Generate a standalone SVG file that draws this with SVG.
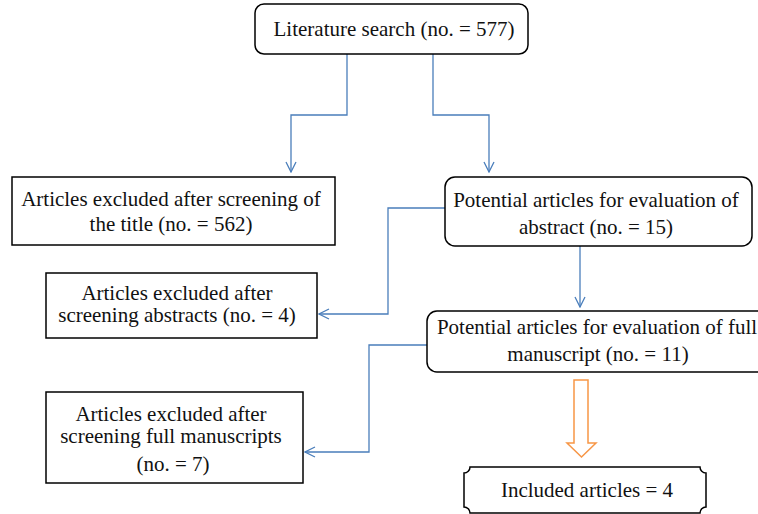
<svg xmlns="http://www.w3.org/2000/svg" width="758" height="514" viewBox="0 0 758 514">
<defs>
<style>
.box{fill:#fff;stroke:#000;stroke-width:1.5}
.t{font-family:"Liberation Serif","Times New Roman",serif;font-size:21px;fill:#111;text-anchor:middle}
.c{fill:none;stroke:#4a7ebb;stroke-width:1.3}
</style>
<marker id="ah" viewBox="0 0 12 12" refX="11" refY="6" markerWidth="12" markerHeight="12" markerUnits="userSpaceOnUse" orient="auto">
<path d="M1,1 L11,6 L1,11" fill="none" stroke="#4a7ebb" stroke-width="1.3"/>
</marker>
</defs>
<rect width="758" height="514" fill="#fff"/>
<g id="connectors">
<path class="c" d="M347,54 V115 H291 V172" marker-end="url(#ah)"/>
<path class="c" d="M433,54 V115 H489 V172" marker-end="url(#ah)"/>
<path class="c" d="M445,208 H388 V314 H319" marker-end="url(#ah)"/>
<path class="c" d="M580,246 V307" marker-end="url(#ah)"/>
<path class="c" d="M427,345 H369 V452 H305" marker-end="url(#ah)"/>
<path d="M574,380 H588 V443 H596 L581.5,457 L567,443 H574 Z" fill="#fff" stroke="#f79646" stroke-width="1.5"/>
</g>
<g id="n1">
<rect class="box" x="255" y="4" width="273" height="50" rx="9"/>
<text class="t" x="394" y="36">Literature search (no. = 577)</text>
</g>
<g id="n2">
<rect class="box" x="12" y="177" width="323" height="68"/>
<text class="t" x="171" y="206">Articles excluded after screening of</text>
<text class="t" x="171" y="231">the title (no. = 562)</text>
</g>
<g id="n3">
<rect class="box" x="445" y="177" width="307" height="69" rx="10"/>
<text class="t" x="596" y="207">Potential articles for evaluation of</text>
<text class="t" x="596" y="234">abstract (no. = 15)</text>
</g>
<g id="n4">
<rect class="box" x="46" y="273" width="271" height="65"/>
<text class="t" x="177" y="300">Articles excluded after</text>
<text class="t" x="177" y="322">screening abstracts (no. = 4)</text>
</g>
<g id="n5">
<rect class="box" x="427" y="311" width="345" height="61" rx="10"/>
<text class="t" x="597" y="334">Potential articles for evaluation of full</text>
<text class="t" x="598" y="361">manuscript (no. = 11)</text>
</g>
<g id="n6">
<rect class="box" x="46" y="392" width="257" height="91"/>
<text class="t" x="171" y="421">Articles excluded after</text>
<text class="t" x="171" y="443">screening full manuscripts</text>
<text class="t" x="173" y="471">(no. = 7)</text>
</g>
<g id="n7">
<path class="box" d="M470,467 H700 A6,6 0 0 0 706,473 V507 A6,6 0 0 0 700,513 H470 A6,6 0 0 0 464,507 V473 A6,6 0 0 0 470,467 Z"/>
<text class="t" x="587" y="497">Included articles  = 4</text>
</g>
</svg>
